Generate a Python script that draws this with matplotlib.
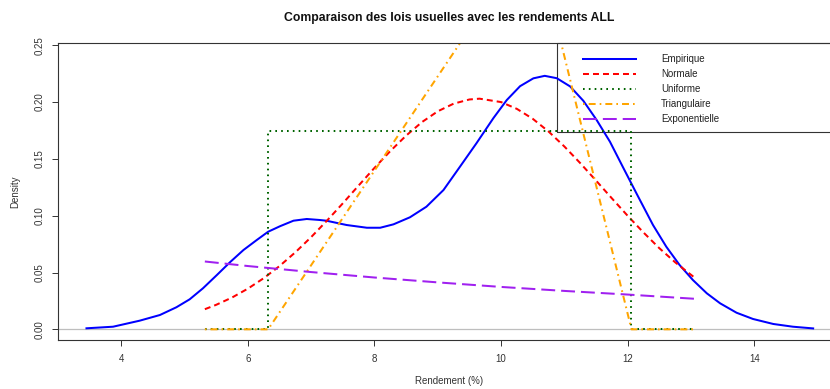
import matplotlib
matplotlib.use("Agg")
import matplotlib.pyplot as plt
from matplotlib.patches import Rectangle

plt.rcParams["font.family"] = ["Liberation Sans", "DejaVu Sans"]
plt.rcParams["lines.scale_dashes"] = False

# Densite empirique (noyau) des rendements ALL
emp_x = [3.45, 3.87, 4.29, 4.61, 4.87, 5.08, 5.29, 5.51, 5.72, 5.93, 6.14, 6.32,
         6.51, 6.72, 6.93, 7.14, 7.24, 7.56, 7.88, 8.09, 8.30, 8.56, 8.82, 9.09,
         9.35, 9.61, 9.88, 10.09, 10.30, 10.51, 10.69, 10.88, 11.09, 11.30, 11.51,
         11.72, 11.93, 12.14, 12.40, 12.61, 12.82, 13.03, 13.25, 13.46, 13.72,
         13.98, 14.30, 14.61, 14.93]
emp_y = [0.0009, 0.0023, 0.0076, 0.0126, 0.0194, 0.0264, 0.0361, 0.0478, 0.0592,
         0.0698, 0.0786, 0.0859, 0.0908, 0.0956, 0.0971, 0.0962, 0.0956, 0.0918,
         0.0894, 0.0894, 0.0924, 0.0986, 0.1079, 0.1226, 0.1431, 0.1637, 0.1860,
         0.2018, 0.2140, 0.2209, 0.2231, 0.2210, 0.2138, 0.2011, 0.1842, 0.1651,
         0.1422, 0.1195, 0.0918, 0.0727, 0.0566, 0.0434, 0.0317, 0.0229, 0.0146,
         0.0091, 0.0047, 0.0023, 0.0008]

# Loi normale
norm_x = [5.32, 5.5, 5.75, 6.0, 6.25, 6.5, 6.75, 7.0, 7.25, 7.5, 7.75, 8.0, 8.25,
          8.5, 8.75, 9.0, 9.25, 9.5, 9.66, 10.0, 10.25, 10.5, 10.75, 11.0, 11.25,
          11.5, 11.75, 12.0, 12.25, 12.5, 12.75, 13.05]
norm_y = [0.0177, 0.0216, 0.0280, 0.0358, 0.0450, 0.0557, 0.0678, 0.0812, 0.0957,
          0.1109, 0.1266, 0.1421, 0.1569, 0.1705, 0.1824, 0.1919, 0.1986, 0.2023,
          0.2030, 0.2000, 0.1940, 0.1853, 0.1741, 0.1609, 0.1463, 0.1309, 0.1153,
          0.0999, 0.0852, 0.0714, 0.0590, 0.0458]

# Loi uniforme
unif_x = [5.32, 6.32, 6.32, 12.06, 12.06, 13.05]
unif_y = [0.0, 0.0, 0.1742, 0.1742, 0.0, 0.0]

# Loi triangulaire
tri_x = [5.32, 6.32, 10.52, 12.06, 13.05]
tri_y = [0.0, 0.0, 0.349, 0.0, 0.0]

# Loi exponentielle
exp_x = [5.32, 6.0, 7.0, 8.0, 9.0, 10.0, 11.0, 12.0, 13.05]
exp_y = [0.0597, 0.0557, 0.0504, 0.0456, 0.0413, 0.0373, 0.0338, 0.0306, 0.0269]

x_ticks = [4, 6, 8, 10, 12, 14]
y_ticks = [0.00, 0.05, 0.10, 0.15, 0.20, 0.25]

W, H = 830, 389
fig = plt.figure(figsize=(W / 100, H / 100), dpi=100)
ax = fig.add_axes([58 / W, (H - 340) / H, (841 - 58) / W, (340 - 43) / H])

lw = 1.45
ax.axhline(0, color="#bebebe", lw=0.9, zorder=1)
ax.plot(emp_x, emp_y, color="blue", lw=lw, label="Empirique")
ax.plot(norm_x, norm_y, color="red", lw=lw, dashes=(4.3, 2.9), label="Normale")
ax.plot(unif_x, unif_y, color="darkgreen", lw=lw, dashes=(1.2, 3.0), label="Uniforme")
ax.plot(tri_x, tri_y, color="orange", lw=lw, dashes=(1.2, 2.9, 5.0, 2.9),
        label="Triangulaire")
ax.plot(exp_x, exp_y, color="#a020f0", lw=lw, dashes=(10.0, 4.3), label="Exponentielle")

ax.set_xlim(3.0, 15.37)
ax.set_ylim(-0.0094, 0.252)
ax.set_xticks(x_ticks)
ax.set_xticklabels([str(t) for t in x_ticks])
ax.set_yticks(y_ticks)
ax.set_yticklabels(["%.2f" % t for t in y_ticks], rotation=90, va="center")
ax.tick_params(axis="both", labelsize=7, length=4.3, width=0.7, colors="#333333")
ax.tick_params(axis="x", pad=5.5)
ax.tick_params(axis="y", pad=5.5)
for s in ax.spines.values():
    s.set_color("#333333")
    s.set_linewidth(0.8)

fig.text(449.5 / W, 1 - 18 / H, "Comparaison des lois usuelles avec les rendements ALL",
         ha="center", va="center", fontsize=8.8, fontweight="bold", color="#111111")
fig.text(449.5 / W, 1 - 381 / H, "Rendement (%)", ha="center", va="center",
         fontsize=7, color="#333333")
fig.text(15 / W, 1 - 191.5 / H, "Density", ha="center", va="center", rotation=90,
         fontsize=7, color="#333333")

# cadre de la legende (sans fond, les courbes passent dessous)
ax.add_patch(Rectangle((0.6373, 0.7003), 0.3627, 0.2997, transform=ax.transAxes,
                       fill=False, edgecolor="#333333", lw=0.8, clip_on=False))
leg = ax.legend(loc="upper left", bbox_to_anchor=(583 / W, 1 - 54.5 / H),
                bbox_transform=fig.transFigure, frameon=False, fontsize=7,
                handlelength=5.45, handletextpad=2.57, borderpad=0,
                borderaxespad=0, labelspacing=0.5)
for t in leg.get_texts():
    t.set_color("#222222")

fig.savefig("out.png", dpi=100)
